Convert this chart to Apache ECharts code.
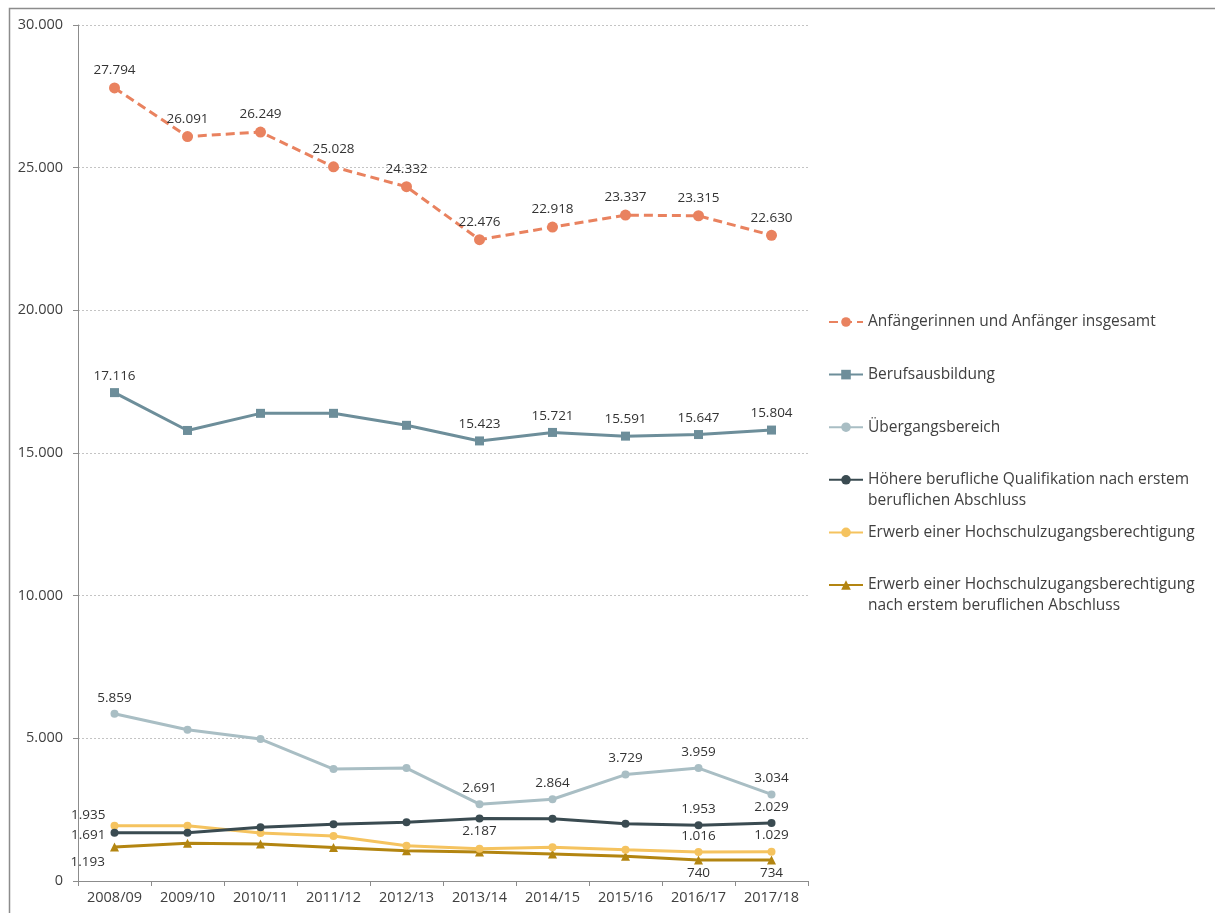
<!DOCTYPE html>
<html>
<head>
<meta charset="utf-8">
<script src="https://cdn.jsdelivr.net/npm/echarts@6/dist/echarts.min.js"></script>
<style>
html,body{margin:0;padding:0;background:#fff;}
#chart{width:1215px;height:913px;}
</style>
</head>
<body>
<div id="chart"></div>
<script>
const categories = ['2008/09','2009/10','2010/11','2011/12','2012/13','2013/14','2014/15','2015/16','2016/17','2017/18'];
const yTicks = [0, 5000, 10000, 15000, 20000, 25000, 30000];

const seriesNames = [
  'Anfängerinnen und Anfänger insgesamt',
  'Berufsausbildung',
  'Übergangsbereich',
  'Höhere berufliche Qualifikation nach erstem beruflichen Abschluss',
  'Erwerb einer Hochschulzugangsberechtigung',
  'Erwerb einer Hochschulzugangsberechtigung nach erstem beruflichen Abschluss'
];
const anfaenger = [27794, 26091, 26249, 25028, 24332, 22476, 22918, 23337, 23315, 22630];
const berufsausbildung = [17116, 15790, 16390, 16390, 15970, 15423, 15721, 15591, 15647, 15804];
const uebergang = [5859, 5300, 4975, 3924, 3959, 2691, 2864, 3729, 3959, 3034];
const hoehere = [1691, 1691, 1880, 1985, 2055, 2187, 2185, 2008, 1953, 2029];
const erwerbHZB = [1935, 1935, 1680, 1575, 1235, 1130, 1180, 1095, 1016, 1029];
const erwerbNach = [1193, 1320, 1295, 1170, 1060, 1015, 945, 865, 740, 734];

// which points carry a value label (index -> placement)
const labelSpec = [
  {0:'top',1:'top',2:'top',3:'top',4:'top',5:'top',6:'top',7:'top',8:'top',9:'top'},
  {0:'top',5:'top',6:'top',7:'top',8:'top',9:'top'},
  {0:'top',5:'top',6:'top',7:'top',8:'top',9:'top'},
  {0:'leftMid',5:'bottom',8:'top',9:'top'},
  {0:'leftUp',8:'top',9:'top'},
  {0:'leftDown',8:'bottom',9:'bottom'}
];

const fmt = v => String(Math.round(v)).replace(/\B(?=(\d{3})+(?!\d))/g, '.');

const styles = [
  {color:'#E9825F', symbol:'circle', size:11, type:[9,5]},
  {color:'#6D8E9A', symbol:'rect', size:9, type:'solid'},
  {color:'#A9BEC4', symbol:'circle', size:8, type:'solid'},
  {color:'#3A4B51', symbol:'circle', size:8, type:'solid'},
  {color:'#F5C35F', symbol:'circle', size:8, type:'solid'},
  {color:'#B38511', symbol:'triangle', size:9, type:'solid'}
];
const values = [anfaenger, berufsausbildung, uebergang, hoehere, erwerbHZB, erwerbNach];

function labelFor(kind) {
  const base = {show:true, color:'#333', fontSize:13.5, fontFamily:'Open Sans', formatter: p => fmt(p.value)};
  if (kind === 'top') return Object.assign(base, {position:'top', distance:5});
  if (kind === 'bottom') return Object.assign(base, {position:'bottom', distance:2});
  if (kind === 'leftMid') return Object.assign(base, {position:'left', distance:5, offset:[0,2]});
  if (kind === 'leftUp') return Object.assign(base, {position:'left', distance:5, offset:[0,-11]});
  if (kind === 'leftDown') return Object.assign(base, {position:'left', distance:5, offset:[0,15]});
  return {show:false};
}

const series = values.map((arr, si) => ({
  name: seriesNames[si],
  type: 'line',
  symbol: styles[si].symbol,
  symbolSize: styles[si].size,
  itemStyle: {color: styles[si].color},
  lineStyle: {color: styles[si].color, width: 3, type: styles[si].type},
  z: 10 - si,
  data: arr.map((v, i) => ({value: v, label: labelFor(labelSpec[si][i])}))
}));

const legendLines = [
  ['Anfängerinnen und Anfänger insgesamt'],
  ['Berufsausbildung'],
  ['Übergangsbereich'],
  ['Höhere berufliche Qualifikation nach erstem', 'beruflichen Abschluss'],
  ['Erwerb einer Hochschulzugangsberechtigung'],
  ['Erwerb einer Hochschulzugangsberechtigung', 'nach erstem beruflichen Abschluss']
];
const LH = 21;
const legends = seriesNames.map((n, i) => {
  const lines = legendLines[i];
  const firstY = 322 + i * 52.6;
  const twoLine = lines.length > 1;
  return {
    data: [n],
    orient: 'vertical',
    left: 828,
    top: twoLine ? firstY - 1.5 * LH : firstY - LH / 2,
    padding: 0,
    itemWidth: 34,
    itemHeight: 12,
    textStyle: {fontSize: 15.5, color: '#404040', fontFamily: 'Open Sans', lineHeight: LH},
    formatter: () => twoLine ? ('\n' + lines[0] + '\n' + lines[1]) : lines[0]
  };
});

const chart = echarts.init(document.getElementById('chart'));
chart.setOption({
  animation: false,
  backgroundColor: '#fff',
  textStyle: {fontFamily: 'Open Sans'},
  grid: {left: 78, right: 407, top: 25, bottom: 32, containLabel: false},
  legend: legends,
  xAxis: {
    type: 'category',
    data: categories,
    boundaryGap: true,
    axisLine: {lineStyle: {color: '#8c8c8c', width: 1}},
    axisTick: {show: true, length: 5, lineStyle: {color: '#8c8c8c'}},
    axisLabel: {color: '#404040', fontSize: 14.5, margin: 9, fontFamily: 'Open Sans'},
    splitLine: {show: false}
  },
  yAxis: {
    type: 'value',
    min: yTicks[0],
    max: yTicks[yTicks.length - 1],
    interval: yTicks[1] - yTicks[0],
    axisLine: {show: true, lineStyle: {color: '#8c8c8c', width: 1}},
    axisTick: {show: true, length: 5, lineStyle: {color: '#8c8c8c'}},
    axisLabel: {color: '#404040', fontSize: 14.5, margin: 15, formatter: v => fmt(v), fontFamily: 'Open Sans'},
    splitLine: {show: true, lineStyle: {color: '#c4c4c4', type: [2, 2], width: 1}}
  },
  graphic: [
    {type: 'rect', shape: {x: 9.5, y: 8.5, width: 1300, height: 1000}, style: {fill: 'none', stroke: '#8c8c8c', lineWidth: 1.5}, silent: true, z: 100}
  ],
  series: series
});
</script>
</body>
</html>
